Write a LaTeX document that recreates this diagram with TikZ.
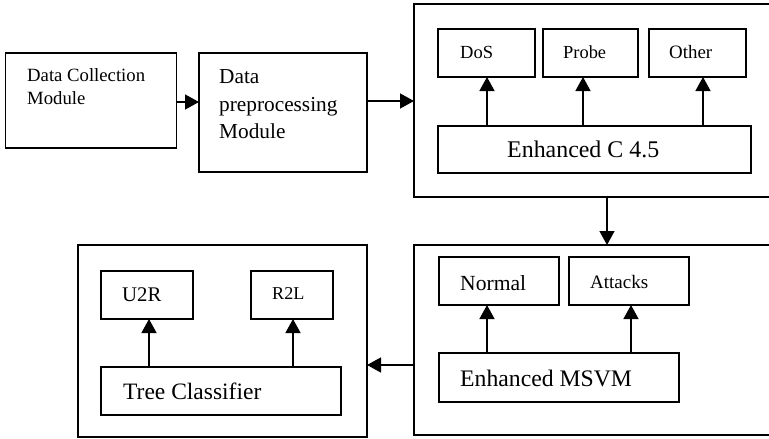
\documentclass[tikz,border=0pt]{standalone}
\usepackage{fontspec}
\setmainfont{Liberation Serif}
\usetikzlibrary{arrows.meta}
\begin{document}
\begin{tikzpicture}[x=1pt,y=-1pt,
  box/.style={draw,line width=1.5pt,inner sep=0pt,outer sep=0pt},
  lbl/.style={inner sep=0pt,anchor=base west},
  arr/.style={line width=1.4pt,-{Triangle[length=14pt,width=15pt]}}]
\useasboundingbox (0,0) rectangle (769,439);
\clip (0,0) rectangle (769,439);
% outer containers
\node[box,minimum width=171pt,minimum height=95pt] (dc) at (91,100.5) {};
\node[box,minimum width=168pt,minimum height=119pt] (dp) at (283,112.5) {};
\node[box,minimum width=361pt,minimum height=193pt] (big1) at (594.5,100.5) {};
\node[box,minimum width=361pt,minimum height=190pt] (big3) at (594.5,340) {};
\node[box,minimum width=289pt,minimum height=192pt] (big2) at (222.5,341) {};
% inner boxes top right
\node[box,minimum width=97pt,minimum height=48pt] (dos) at (486.5,53) {};
\node[box,minimum width=95pt,minimum height=48pt] (probe) at (590.5,53) {};
\node[box,minimum width=97pt,minimum height=48pt] (other) at (697.5,53) {};
\node[box,minimum width=313pt,minimum height=47pt] (c45) at (594.5,149.5) {};
% inner boxes bottom right
\node[box,minimum width=120pt,minimum height=48pt] (normal) at (499,281) {};
\node[box,minimum width=120pt,minimum height=48pt] (attacks) at (629,281) {};
\node[box,minimum width=240pt,minimum height=49pt] (msvm) at (559,377.5) {};
% inner boxes bottom left
\node[box,minimum width=92pt,minimum height=48pt] (u2r) at (147,295) {};
\node[box,minimum width=82pt,minimum height=48pt] (r2l) at (292,295) {};
\node[box,minimum width=240pt,minimum height=48pt] (tree) at (221,391) {};
% labels
\node[lbl,font=\fontsize{18.7}{23}\selectfont] (t1a) at (27,81) {Data Collection};
\node[lbl,font=\fontsize{18.7}{23}\selectfont] (t1b) at (27,104) {Module};
\node[lbl,font=\fontsize{21.3}{27}\selectfont] (t2a) at (219,83) {Data};
\node[lbl,font=\fontsize{21.3}{27}\selectfont] (t2b) at (219,111) {preprocessing};
\node[lbl,font=\fontsize{21.3}{27}\selectfont] (t2c) at (219,138) {Module};
\node[lbl,font=\fontsize{18.5}{20}\selectfont] (tdos) at (460,58) {DoS};
\node[lbl,font=\fontsize{18.4}{20}\selectfont] (tprobe) at (563,58) {Probe};
\node[lbl,font=\fontsize{18.9}{20}\selectfont] (tother) at (669,58) {Other};
\node[lbl,font=\fontsize{23.9}{26}\selectfont] (tc45) at (507,157) {Enhanced C 4.5};
\node[lbl,font=\fontsize{21.6}{23}\selectfont] (tnormal) at (460,290) {Normal};
\node[lbl,font=\fontsize{19}{21}\selectfont] (tattacks) at (590,288) {Attacks};
\node[lbl,font=\fontsize{23.7}{26}\selectfont] (tmsvm) at (460,386) {Enhanced MSVM};
\node[lbl,font=\fontsize{20.8}{23}\selectfont] (tu2r) at (122,301) {U2R};
\node[lbl,font=\fontsize{18.1}{20}\selectfont] (tr2l) at (272,299) {R2L};
\node[lbl,font=\fontsize{23.5}{25}\selectfont] (ttree) at (123,399) {Tree Classifier};
% helper coordinates
\coordinate (y1) at (0,102);
\coordinate (y2) at (0,101);
\coordinate (xd) at (607,0);
\coordinate (yl) at (0,365);
\coordinate (xa) at (487,0);
\coordinate (xb) at (583,0);
\coordinate (xc) at (703,0);
\coordinate (xn) at (487,0);
\coordinate (xt) at (631,0);
\coordinate (xu) at (149,0);
\coordinate (xr) at (293,0);
% main connectors
\draw[arr] (dc.east |- y1) -- (dp.west |- y1);
\draw[arr] (dp.east |- y2) -- (big1.west |- y2);
\draw[arr] (xd |- big1.south) -- (xd |- big3.north);
\draw[arr] (big3.west |- yl) -- (big2.east |- yl);
% inner connectors
\draw[arr] (xa |- c45.north) -- (xa |- dos.south);
\draw[arr] (xb |- c45.north) -- (xb |- probe.south);
\draw[arr] (xc |- c45.north) -- (xc |- other.south);
\draw[arr] (xn |- msvm.north) -- (xn |- normal.south);
\draw[arr] (xt |- msvm.north) -- (xt |- attacks.south);
\draw[arr] (xu |- tree.north) -- (xu |- u2r.south);
\draw[arr] (xr |- tree.north) -- (xr |- r2l.south);
\end{tikzpicture}
\end{document}
